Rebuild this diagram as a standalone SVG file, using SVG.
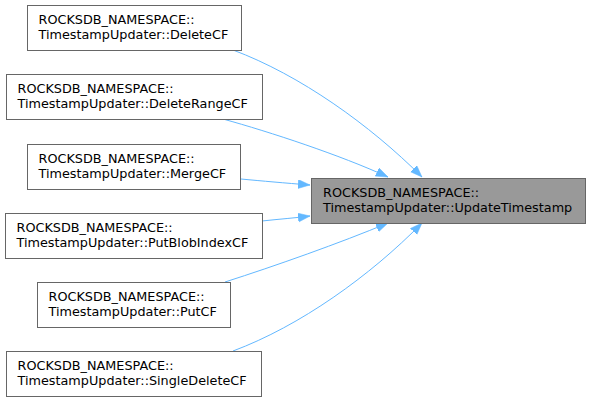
<svg xmlns="http://www.w3.org/2000/svg" width="590" height="402" viewBox="0 0 590 402">
<style>
.box{fill:#ffffff;stroke:#666666;stroke-width:1}
.cur{fill:#999999;stroke:#666666;stroke-width:1}
text{font-family:"DejaVu Sans",sans-serif;font-size:12.8px;fill:#000000}
.edge{fill:none;stroke:#63b8ff;stroke-width:1}
</style>
<defs>
<marker id="ah" markerUnits="userSpaceOnUse" markerWidth="13" markerHeight="10" refX="12" refY="4.5" orient="auto">
<path d="M0,0 L12,4.5 L0,9 Z" fill="#63b8ff" stroke="#63b8ff" stroke-width="0.5"/>
</marker>
</defs>
<g id="connectors">
<path class="edge" d="M233,50 C300,75 370,125 422,177" marker-end="url(#ah)"/>
<path class="edge" d="M223,119 C270,132 340,155 388,177" marker-end="url(#ah)"/>
<path class="edge" d="M241,179 C262,181 285,183 310,185" marker-end="url(#ah)"/>
<path class="edge" d="M262,221 C280,219 295,218 310,216" marker-end="url(#ah)"/>
<path class="edge" d="M225,282 C275,266 340,243 388,223" marker-end="url(#ah)"/>
<path class="edge" d="M233,351 C300,326 370,276 422,223" marker-end="url(#ah)"/>
</g>
<g id="node-target">
<rect class="cur" x="311.5" y="178.5" width="274" height="45"/>
<text x="323" y="197">ROCKSDB_NAMESPACE::</text>
<text x="323" y="212">TimestampUpdater::UpdateTimestamp</text>
</g>
<g id="node-deletecf">
<rect class="box" x="27.5" y="5.5" width="214" height="45"/>
<text x="38.5" y="24">ROCKSDB_NAMESPACE::</text>
<text x="38.5" y="39">TimestampUpdater::DeleteCF</text>
</g>
<g id="node-deleterangecf">
<rect class="box" x="6.5" y="74.5" width="256" height="45"/>
<text x="17.5" y="93">ROCKSDB_NAMESPACE::</text>
<text x="17.5" y="108">TimestampUpdater::DeleteRangeCF</text>
</g>
<g id="node-mergecf">
<rect class="box" x="27.5" y="144.5" width="213" height="45"/>
<text x="38.5" y="163">ROCKSDB_NAMESPACE::</text>
<text x="38.5" y="178">TimestampUpdater::MergeCF</text>
</g>
<g id="node-putblobindexcf">
<rect class="box" x="5.5" y="213.5" width="257" height="45"/>
<text x="16.5" y="232">ROCKSDB_NAMESPACE::</text>
<text x="16.5" y="247">TimestampUpdater::PutBlobIndexCF</text>
</g>
<g id="node-putcf">
<rect class="box" x="37.5" y="282.5" width="193" height="45"/>
<text x="48.5" y="301">ROCKSDB_NAMESPACE::</text>
<text x="48.5" y="316">TimestampUpdater::PutCF</text>
</g>
<g id="node-singledeletecf">
<rect class="box" x="6.5" y="351.5" width="255" height="45"/>
<text x="17.5" y="370">ROCKSDB_NAMESPACE::</text>
<text x="17.5" y="385">TimestampUpdater::SingleDeleteCF</text>
</g>
</svg>
